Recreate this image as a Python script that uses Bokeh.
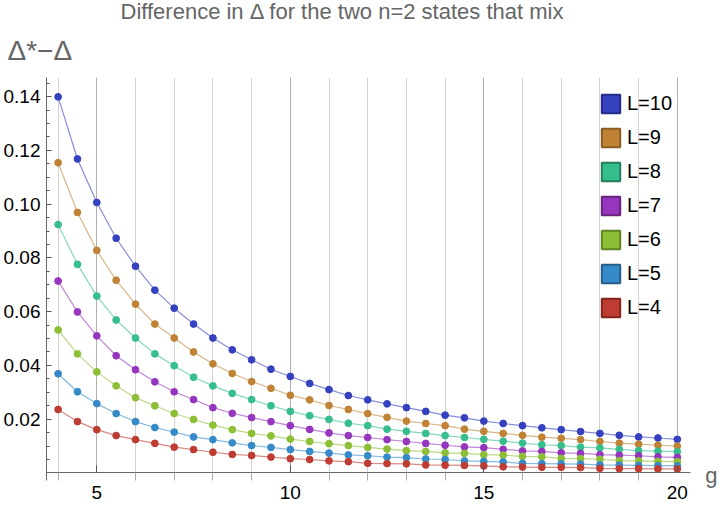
from bokeh.plotting import figure
from bokeh.models import (Range1d, FixedTicker, Grid, Legend, LegendItem, Label,
                          Title, PrintfTickFormatter, BoxAnnotation)
from bokeh.embed import file_html
from bokeh.resources import INLINE

# ---------------- data ----------------
g = [4.0, 4.5, 5.0, 5.5, 6.0, 6.5, 7.0, 7.5, 8.0, 8.5, 9.0, 9.5, 10.0, 10.5, 11.0,
     11.5, 12.0, 12.5, 13.0, 13.5, 14.0, 14.5, 15.0, 15.5, 16.0, 16.5, 17.0, 17.5,
     18.0, 18.5, 19.0, 19.5, 20.0]

L10 = [0.1399, 0.1168, 0.1006, 0.0873, 0.0769, 0.0680, 0.0613, 0.0554, 0.0502, 0.0458,
       0.0421, 0.0386, 0.0359, 0.0333, 0.0310, 0.0288, 0.0272, 0.0257, 0.0243, 0.0229,
       0.0215, 0.0205, 0.0193, 0.0184, 0.0176, 0.0168, 0.0161, 0.0154, 0.0147, 0.0140,
       0.0134, 0.0130, 0.0125]
L9 = [0.1154, 0.0969, 0.0828, 0.0717, 0.0628, 0.0554, 0.0502, 0.0450, 0.0406, 0.0370,
      0.0340, 0.0315, 0.0289, 0.0272, 0.0251, 0.0236, 0.0221, 0.0207, 0.0193, 0.0184,
      0.0176, 0.0163, 0.0155, 0.0147, 0.0140, 0.0133, 0.0129, 0.0124, 0.0117, 0.0111,
      0.0107, 0.0103, 0.0100]
L8 = [0.0924, 0.0776, 0.0658, 0.0569, 0.0502, 0.0443, 0.0399, 0.0356, 0.0324, 0.0296,
      0.0273, 0.0250, 0.0229, 0.0213, 0.0199, 0.0185, 0.0176, 0.0163, 0.0155, 0.0147,
      0.0139, 0.0132, 0.0125, 0.0118, 0.0111, 0.0105, 0.0102, 0.0096, 0.0093, 0.0088,
      0.0083, 0.0081, 0.0079]
L7 = [0.0714, 0.0599, 0.0510, 0.0436, 0.0384, 0.0339, 0.0302, 0.0273, 0.0243, 0.0222,
      0.0206, 0.0191, 0.0176, 0.0162, 0.0149, 0.0139, 0.0132, 0.0124, 0.0117, 0.0110,
      0.0103, 0.0097, 0.0094, 0.0088, 0.0082, 0.0080, 0.0075, 0.0073, 0.0068, 0.0066,
      0.0064, 0.0060, 0.0058]
L6 = [0.0532, 0.0443, 0.0376, 0.0324, 0.0280, 0.0250, 0.0221, 0.0199, 0.0178, 0.0161,
      0.0147, 0.0138, 0.0126, 0.0117, 0.0109, 0.0102, 0.0095, 0.0089, 0.0083, 0.0080,
      0.0075, 0.0073, 0.0068, 0.0066, 0.0062, 0.0060, 0.0054, 0.0053, 0.0051, 0.0046,
      0.0045, 0.0043, 0.0042]
L5 = [0.0369, 0.0302, 0.0258, 0.0221, 0.0191, 0.0169, 0.0152, 0.0134, 0.0124, 0.0112,
      0.0102, 0.0095, 0.0087, 0.0080, 0.0074, 0.0067, 0.0064, 0.0059, 0.0057, 0.0052,
      0.0050, 0.0045, 0.0043, 0.0041, 0.0036, 0.0035, 0.0034, 0.0033, 0.0030, 0.0029,
      0.0028, 0.0027, 0.0026]
L4 = [0.0236, 0.0191, 0.0161, 0.0139, 0.0124, 0.0110, 0.0096, 0.0087, 0.0077, 0.0069,
      0.0065, 0.0059, 0.0053, 0.0050, 0.0045, 0.0042, 0.0036, 0.0035, 0.0034, 0.0030,
      0.0029, 0.0028, 0.0026, 0.0023, 0.0022, 0.0021, 0.0021, 0.0020, 0.0017, 0.0016,
      0.0016, 0.0015, 0.0015]

labels = ["L=10", "L=9", "L=8", "L=7", "L=6", "L=5", "L=4"]
series = [L10, L9, L8, L7, L6, L5, L4]

x_major = [5, 10, 15, 20]
x_minor = [4, 6, 7, 8, 9, 11, 12, 13, 14, 16, 17, 18, 19]
y_major = [0.02, 0.04, 0.06, 0.08, 0.10, 0.12, 0.14]

title_text = "Difference in \u0394 for the two n=2 states that mix"
ylabel_text = "\u0394*\u2212\u0394"
xlabel_text = "g"

# ---------------- styles ----------------
colors = ["#3641c0", "#c08336", "#36be8c", "#9636be", "#8cbe36", "#368ac8", "#be3c32"]
dark = ["#252d8a", "#8a5c24", "#247f5c", "#68247f", "#5e8424", "#245f8a", "#84261f"]
FONT = "Liberation Sans"
GRAY = "#666666"

X0, X1 = 3.70, 21.116      # frame spans to the right edge (room for the "g")
Y0, Y1 = -0.01322, 0.1471  # frame spans below the x axis (axis fixed at y=0)
AX_START, AX_END = 3.34, 20.34

p = figure(width=720, height=508, output_backend="svg", toolbar_location=None,
           x_range=Range1d(X0, X1), y_range=Range1d(Y0, Y1),
           min_border_left=46, min_border_right=0, min_border_top=75,
           min_border_bottom=0)
p.outline_line_color = None
p.background_fill_color = "white"
p.border_fill_color = "white"
p.title.text = ""

# titles (stacked above the frame: first added is nearest the frame)
p.add_layout(Title(text=ylabel_text, align="left", offset=-39, standoff=24,
                   text_font=FONT, text_font_size="28px", text_font_style="normal",
                   text_color=GRAY), "above")
p.add_layout(Title(text=title_text, align="left", offset=74, standoff=-7,
                   text_font=FONT, text_font_size="22px", text_font_style="normal",
                   text_color=GRAY), "above")

# vertical grid lines (only above the x axis)
p.ygrid.visible = False
p.xgrid.ticker = FixedTicker(ticks=x_minor)
p.xgrid.grid_line_color = "#d2d2d2"
p.add_layout(Grid(dimension=0, ticker=FixedTicker(ticks=x_major),
                  grid_line_color="#b0b0b0"))
p.add_layout(BoxAnnotation(top=0, level="underlay", fill_color="white", fill_alpha=1,
                           line_alpha=0))

# x axis, crossing at y = 0
xa = p.xaxis[0]
xa.fixed_location = 0
xa.bounds = (AX_START, AX_END)
xa.ticker = FixedTicker(ticks=x_major, minor_ticks=x_minor)
xa.axis_line_color = GRAY
xa.major_tick_line_color = "#555555"
xa.major_tick_in = 7
xa.major_tick_out = 0
xa.minor_tick_line_color = "#aaaaaa"
xa.minor_tick_in = 0
xa.minor_tick_out = 8
xa.major_label_text_font = FONT
xa.major_label_text_font_size = "19px"
xa.major_label_text_color = "#000000"
xa.major_label_standoff = 5

# y axis
ya = p.yaxis[0]
y_minor = [round(0.005 * k, 3) for k in range(1, 30) if k % 4 != 0]
ya.ticker = FixedTicker(ticks=y_major, minor_ticks=y_minor)
ya.formatter = PrintfTickFormatter(format="%.2f")
ya.bounds = (-0.0028, Y1)
ya.axis_line_color = GRAY
ya.major_tick_line_color = "#555555"
ya.major_tick_in = 5
ya.major_tick_out = 0
ya.minor_tick_line_color = "#555555"
ya.minor_tick_in = 3
ya.minor_tick_out = 0
ya.major_label_text_font = FONT
ya.major_label_text_font_size = "19px"
ya.major_label_text_color = "#000000"
ya.major_label_standoff = 6

# data
items = []
off = max(g) + 10  # legend swatch renderers live outside the visible range
for lab, vals, c, d in zip(labels, series, colors, dark):
    p.line(g, vals, line_color=c, line_width=1.2, line_alpha=0.6)
    p.scatter(g, vals, size=6.8, fill_color=c, line_color=c)
    sw = p.quad(left=[off], right=[off + 1], top=[1], bottom=[0.9], fill_color=c,
                line_color=d, line_width=2)
    items.append(LegendItem(label=lab, renderers=[sw]))

legend = Legend(items=items, location=(553, 189), orientation="vertical",
                glyph_width=23, glyph_height=23, spacing=11, label_standoff=5,
                padding=0, margin=0, border_line_alpha=0, background_fill_alpha=0,
                label_text_font=FONT, label_text_font_size="20px",
                label_text_color="#000000")
p.add_layout(legend)

# axis name "g" at the right end of the x axis
p.add_layout(Label(x=20.72, y=-0.0010, text=xlabel_text,
                   text_font=FONT, text_font_size="22px", text_color=GRAY,
                   text_align="left", text_baseline="alphabetic"))

open("out.html", "w").write(file_html(p, INLINE))
